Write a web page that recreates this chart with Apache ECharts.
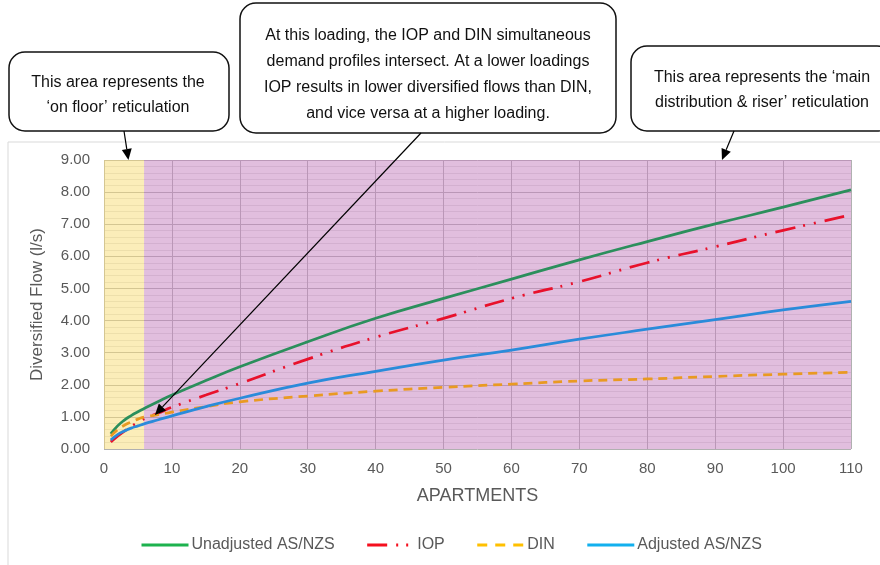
<!DOCTYPE html>
<html>
<head>
<meta charset="utf-8">
<script src="https://cdn.jsdelivr.net/npm/echarts@6/dist/echarts.min.js"></script>
<style>
html,body{margin:0;padding:0;background:#fff;}
#c{width:880px;height:565px;}
</style>
</head>
<body>
<div id="c"></div>
<script>
// ---- data ----
var apartments = [1,2,3,4,5,6,8,10,15,20,30,40,50,60,70,80,90,100,110];
var unadjustedASNZS = [0.47,0.72,0.90,1.04,1.16,1.27,1.48,1.68,2.13,2.56,3.34,4.07,4.69,5.29,5.89,6.46,7.01,7.53,8.07];
var iop = [0.22,0.40,0.56,0.70,0.83,0.95,1.12,1.30,1.68,2.04,2.80,3.48,4.07,4.69,5.21,5.80,6.30,6.81,7.29];
var din = [0.40,0.60,0.74,0.84,0.93,1.00,1.07,1.15,1.32,1.47,1.65,1.80,1.92,2.02,2.12,2.18,2.26,2.33,2.39];
var adjustedASNZS = [0.28,0.45,0.56,0.65,0.72,0.79,0.91,1.03,1.32,1.58,2.05,2.42,2.77,3.08,3.42,3.73,4.03,4.33,4.60];
var seriesNames = ['Unadjusted AS/NZS','IOP','DIN','Adjusted AS/NZS'];
var onFloorRange = [0, 5.9];
var mainRange = [5.9, 110];
var yTicks = [0,1,2,3,4,5,6,7,8,9];
var xTicks = [0,10,20,30,40,50,60,70,80,90,100,110];
var calloutOnFloor = ['This area represents the','\u2018on floor\u2019 reticulation'];
var calloutIntersect = ['At this loading, the IOP and DIN simultaneous','demand profiles intersect. At a lower loadings','IOP results in lower diversified flows than DIN,','and vice versa at a higher loading.'];
var calloutMain = ['This area represents the \u2018main','distribution & riser\u2019 reticulation'];
var intersectPoint = [7.5, 1.06];

function pairs(ys){ return apartments.map(function(x,i){ return [x, ys[i]]; }); }

var FONT = '"Liberation Sans", Arial, sans-serif';
var chart = echarts.init(document.getElementById('c'), null, {renderer:'canvas'});

var legendColors = ['#1DB24E','#F50F1E','#FFC000','#12B0EE'];
var legendDash = ['solid',[20,9,2,8,2,8],[10,8],'solid'];

var option = {
  animation:false,
  backgroundColor:'#fff',
  grid:{left:104, right:29, top:160, bottom:116},
  xAxis:{
    type:'value', min:xTicks[0], max:xTicks[xTicks.length-1], interval:10,
    name:'APARTMENTS', nameLocation:'middle', nameGap:38,
    nameTextStyle:{fontSize:18, color:'#595959', fontFamily:FONT},
    axisLine:{show:false}, axisTick:{show:false},
    axisLabel:{fontSize:15, color:'#595959', fontFamily:FONT, margin:12},
    splitLine:{show:true, lineStyle:{color:'#B0B0B0', width:1}}
  },
  yAxis:{
    type:'value', min:yTicks[0], max:yTicks[yTicks.length-1], interval:1,
    name:'Diversified Flow (l/s)', nameLocation:'middle', nameGap:58, nameRotate:90,
    nameTextStyle:{fontSize:17, color:'#595959', fontFamily:FONT},
    axisLine:{show:false}, axisTick:{show:false},
    axisLabel:{fontSize:15, color:'#595959', fontFamily:FONT, margin:14, formatter:function(v){return v.toFixed(2);}},
    splitLine:{show:true, lineStyle:{color:'#B0B0B0', width:1}},
    minorTick:{show:false, splitNumber:5},
    minorSplitLine:{show:true, lineStyle:{color:'#E2E2E2', width:1}}
  },
  legend:{
    left:135, top:532, itemWidth:47, itemHeight:14, itemGap:31,
    textStyle:{fontSize:16, color:'#595959', fontFamily:FONT, padding:[0,0,0,-2]},
    data:seriesNames.map(function(n,i){
      return {name:n, lineStyle:{color:legendColors[i], width:3, type:legendDash[i], cap:'butt'}, itemStyle:{opacity:0, color:legendColors[i]}};
    })
  },
  series:[
    {name:seriesNames[0], type:'line', smooth:true, symbol:'none', data:pairs(unadjustedASNZS),
     lineStyle:{color:'#2B8F5C', width:2.75}, itemStyle:{color:'#2B8F5C'}, z:5,
     markArea:{silent:true, data:[
       [{xAxis:onFloorRange[0], itemStyle:{color:'rgba(247,220,115,0.5)'}},{xAxis:onFloorRange[1]}],
       [{xAxis:mainRange[0], itemStyle:{color:'rgba(196,126,190,0.5)'}},{xAxis:mainRange[1]}]
     ]}},
    {name:seriesNames[1], type:'line', smooth:true, symbol:'none', data:pairs(iop),
     lineStyle:{color:'#E8112B', width:2.75, type:[20,8,2,9,2,9], cap:'butt'}, itemStyle:{color:'#E8112B'}, z:5},
    {name:seriesNames[2], type:'line', smooth:true, symbol:'none', data:pairs(din),
     lineStyle:{color:'#E99A22', width:2.75, type:[9,6], cap:'butt'}, itemStyle:{color:'#E99A22'}, z:5},
    {name:seriesNames[3], type:'line', smooth:true, symbol:'none', data:pairs(adjustedASNZS),
     lineStyle:{color:'#2A8BDA', width:2.75}, itemStyle:{color:'#2A8BDA'}, z:5}
  ]
};
chart.setOption(option);

function arrowEls(x1,y1,x2,y2){
  var dx=x2-x1, dy=y2-y1, L=Math.sqrt(dx*dx+dy*dy), ux=dx/L, uy=dy/L;
  var hl=11, hw=5;
  var bx=x2-ux*hl, by=y2-uy*hl;
  return [
    {type:'line', z:100, shape:{x1:x1,y1:y1,x2:bx,y2:by}, style:{stroke:'#000', lineWidth:1.2}},
    {type:'polygon', z:100, shape:{points:[[x2,y2],[bx-uy*hw,by+ux*hw],[bx+uy*hw,by-ux*hw]]}, style:{fill:'#000'}}
  ];
}
function callout(x,y,w,h,lines,cx,firstY,lh){
  var els=[{type:'rect', z:90, shape:{x:x,y:y,width:w,height:h,r:16}, style:{fill:'#fff', stroke:'#111', lineWidth:1.5}}];
  lines.forEach(function(t,i){
    els.push({type:'text', z:95, style:{text:t, x:cx, y:firstY+i*lh, fill:'#111', font:'16px '+FONT, textAlign:'center', textVerticalAlign:'middle'}});
  });
  return els;
}

var p1 = chart.convertToPixel({gridIndex:0},[3.6, 9]);
var p2 = chart.convertToPixel({gridIndex:0}, intersectPoint);
var p3 = chart.convertToPixel({gridIndex:0},[91, 9]);

var g = [];
g.push({type:'rect', z:1, shape:{x:8,y:142,width:890,height:440}, style:{fill:'none', stroke:'#D9D9D9', lineWidth:1}});
g = g.concat(callout(9,52,220,79,calloutOnFloor,118,83,25));
g = g.concat(callout(240,3,376,130,calloutIntersect,428,36,25.7));
g = g.concat(callout(631,46,262,85,calloutMain,762,78,25));
g = g.concat(arrowEls(124,131,p1[0],p1[1]));
g = g.concat(arrowEls(421,133,p2[0],p2[1]));
g = g.concat(arrowEls(734,131,p3[0],p3[1]));
chart.setOption({graphic:g});
</script>
</body>
</html>
